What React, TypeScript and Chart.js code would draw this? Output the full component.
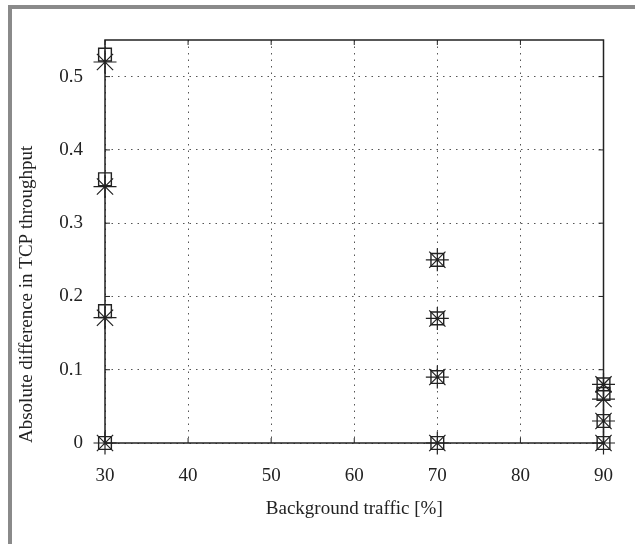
import React, { useEffect, useRef } from "react";
import { Chart, registerables } from "chart.js";

Chart.register(...registerables);

const xValues = [30, 30, 30, 30, 70, 70, 70, 70, 90, 90, 90, 90];
const squareValues = [0.53, 0.36, 0.18, 0, 0.25, 0.17, 0.09, 0, 0.08, 0.067, 0.03, 0];
const starValues = [0.52, 0.35, 0.171, 0, 0.25, 0.17, 0.09, 0, 0.08, 0.06, 0.03, 0];
const xTitle = "Background traffic [%]";
const yTitle = "Absolute difference in TCP throughput";

const FONT = "'Liberation Serif', 'Times New Roman', serif";
const INK = "#222";

const frameTicks = {
  id: "frameTicks",
  beforeDatasetsDraw(chart: any) {
    const { ctx, chartArea } = chart;
    const { left, right, top, bottom } = chartArea;
    const xs = chart.scales.x;
    const ys = chart.scales.y;
    ctx.save();
    ctx.strokeStyle = INK;
    ctx.lineWidth = 1;
    ctx.setLineDash([]);
    const tl = 5;
    ctx.beginPath();
    xs.ticks.forEach((t: any) => {
      const px = xs.getPixelForValue(t.value);
      ctx.moveTo(px, bottom);
      ctx.lineTo(px, bottom - tl);
      ctx.moveTo(px, top);
      ctx.lineTo(px, top + tl);
    });
    ys.ticks.forEach((t: any) => {
      const py = ys.getPixelForValue(t.value);
      ctx.moveTo(left, py);
      ctx.lineTo(left + tl, py);
      ctx.moveTo(right, py);
      ctx.lineTo(right - tl, py);
    });
    ctx.stroke();
    ctx.lineWidth = 1.5;
    ctx.strokeRect(left, top, right - left, bottom - top);
    ctx.restore();
  },
};

export default function App() {
  const ref = useRef<HTMLCanvasElement>(null);
  useEffect(() => {
    if (!ref.current) return;
    const chart = new Chart(ref.current, {
      type: "scatter",
      data: {
        datasets: [
          {
            data: xValues.map((x, i) => ({ x, y: squareValues[i] })),
            pointStyle: "rect",
            pointRadius: 9,
            borderColor: "#222",
            borderWidth: 1.4,
            backgroundColor: "rgba(0,0,0,0)",
            showLine: false,
            clip: false,
          } as any,
          {
            data: xValues.map((x, i) => ({ x, y: starValues[i] })),
            pointStyle: "star",
            pointRadius: 11.5,
            borderColor: "#222",
            borderWidth: 1.2,
            backgroundColor: "rgba(0,0,0,0)",
            showLine: false,
            clip: false,
          } as any,
        ],
      },
      options: {
        animation: false,
        responsive: false,
        devicePixelRatio: 1,
        layout: { padding: { top: 40, right: 21, left: 8, bottom: 0 } },
        plugins: { legend: { display: false }, tooltip: { enabled: false } },
        scales: {
          x: {
            type: "linear",
            min: 30,
            max: 90,
            afterFit: (s: any) => {
              s.height = 101;
            },
            ticks: {
              stepSize: 10,
              padding: 22,
              color: INK,
              font: { family: FONT, size: 19 },
              maxRotation: 0,
            },
            grid: { color: "#555", lineWidth: 1, drawTicks: false },
            border: { display: false, dash: [1.5, 5] },
            title: {
              display: true,
              text: xTitle,
              color: INK,
              font: { family: FONT, size: 19 },
              padding: { top: 0, bottom: 24 },
            },
          },
          y: {
            type: "linear",
            min: 0,
            max: 0.55,
            afterFit: (s: any) => {
              s.width = 97;
            },
            ticks: {
              stepSize: 0.1,
              includeBounds: false,
              padding: 22,
              color: INK,
              font: { family: FONT, size: 19 },
              callback: (v: any) => (v === 0 ? "0" : Number(v).toFixed(1)),
            },
            grid: { color: "#555", lineWidth: 1, drawTicks: false },
            border: { display: false, dash: [1.5, 5] },
            title: {
              display: true,
              text: yTitle,
              align: "start",
              color: INK,
              font: { family: FONT, size: 19 },
              padding: { top: 7.6, bottom: 0 },
            },
          },
        },
      },
      plugins: [frameTicks],
    } as any);
    return () => chart.destroy();
  }, []);

  return (
    <div style={{ position: "absolute", left: 0, top: 0, width: 635, height: 544, background: "#fff" }}>
      <canvas ref={ref} width={635} height={544} style={{ position: "absolute", left: 0, top: 0 }} />
      <div style={{ position: "absolute", left: 8, top: 5, width: 627, height: 4, background: "#8a8a8a" }} />
      <div style={{ position: "absolute", left: 8, top: 5, width: 4, height: 539, background: "#8a8a8a" }} />
    </div>
  );
}
